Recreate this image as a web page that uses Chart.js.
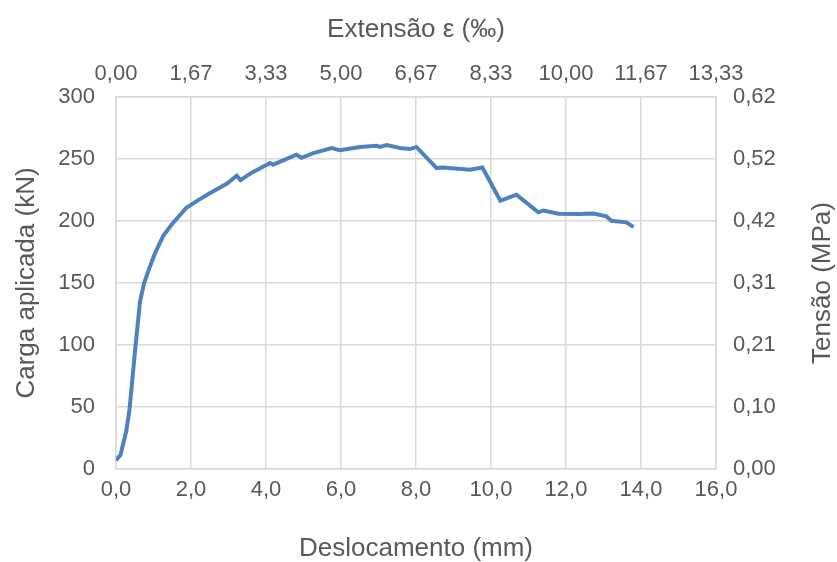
<!DOCTYPE html>
<html>
<head>
<meta charset="utf-8">
<script src="https://cdn.jsdelivr.net/npm/chart.js@4.4.1/dist/chart.umd.min.js"></script>
<style>
  body { margin: 0; background: #fff; }
  #chart { display: block; }
</style>
</head>
<body>
<canvas id="chart" width="837" height="562"></canvas>
<script>
// deslocamento (mm) e carga (kN)
const disp = [0, 0.12, 0.27, 0.36, 0.51, 0.64, 0.75, 0.89, 1.04, 1.26, 1.48, 1.87, 2.15, 2.51, 2.95, 3.22, 3.32, 3.62, 4.11, 4.19,
    4.81, 4.95, 5.26, 5.75, 5.97, 6.51, 6.95, 7.04, 7.22, 7.57, 7.84, 8.01, 8.55, 8.72, 9.44, 9.77, 10.25, 10.68,
    11.26, 11.4, 11.8, 12.37, 12.73, 13.08, 13.21, 13.61, 13.8];
const load = [7, 11.5, 30, 48, 96, 135, 150, 162, 174, 188, 197, 210.5, 216, 222.6, 230, 236.5, 233, 239, 246.7, 245.4,
    253.5, 251, 254.8, 258.9, 257, 259.7, 260.7, 259.7, 261.3, 258.9, 258, 259.7, 242.7, 243.2, 241.4, 243.2, 216.4, 221.2,
    207, 208.5, 205.9, 205.6, 206.1, 203.7, 200.2, 198.9, 195.2];

const xTicks = ['0,0', '2,0', '4,0', '6,0', '8,0', '10,0', '12,0', '14,0', '16,0'];
const strainTicks = ['0,00', '1,67', '3,33', '5,00', '6,67', '8,33', '10,00', '11,67', '13,33'];
const stressTicks = ['0,00', '0,10', '0,21', '0,31', '0,42', '0,52', '0,62'];

const grey = '#d9d9d9';
const txt = '#595959';
const fam = 'Liberation Sans, Arial, sans-serif';
const tickFont = { family: fam, size: 22 };
const titleFont = { family: fam, size: 26, lineHeight: 1.2 };

// titulo do eixo secundario, rodado como no Excel (de baixo para cima)
const rightTitle = {
    id: 'rightTitle',
    afterDraw(chart) {
        const a = chart.chartArea;
        const c = chart.ctx;
        c.save();
        c.translate(823, (a.top + a.bottom) / 2);
        c.rotate(-Math.PI / 2);
        c.font = '26px ' + fam;
        c.fillStyle = txt;
        c.textAlign = 'center';
        c.textBaseline = 'middle';
        c.fillText('Tensão (MPa)', 0, 0);
        c.restore();
    }
};

const ctx = document.getElementById('chart').getContext('2d');
new Chart(ctx, {
    type: 'scatter',
    data: {
        datasets: [{
            data: disp.map((x, i) => ({ x: x, y: load[i] })),
            showLine: true,
            borderColor: '#4f81bd',
            borderWidth: 4,
            pointRadius: 0,
            tension: 0,
            xAxisID: 'x',
            yAxisID: 'y'
        }]
    },
    plugins: [rightTitle],
    options: {
        responsive: false,
        animation: false,
        layout: { padding: 0 },
        plugins: { legend: { display: false }, tooltip: { enabled: false } },
        scales: {
            x: {
                type: 'linear', position: 'bottom', min: 0, max: 16,
                afterFit: s => { s.height = 93; },
                grid: { color: grey, lineWidth: 1.5, drawTicks: false },
                border: { color: grey, width: 1.5 },
                ticks: { stepSize: 2, color: txt, font: tickFont, padding: 8, maxRotation: 0,
                    callback: (v, i) => xTicks[i] },
                title: { display: true, text: 'Deslocamento (mm)', color: txt,
                    font: { family: fam, size: 26, lineHeight: 1 }, padding: { top: 0, bottom: 0 } }
            },
            x2: {
                type: 'linear', position: 'top', min: 0, max: 16,
                afterFit: s => { s.height = 97; },
                grid: { display: false, drawTicks: false },
                border: { color: grey, width: 1.5 },
                ticks: { stepSize: 2, color: txt, font: tickFont, padding: 10, maxRotation: 0,
                    callback: (v, i) => strainTicks[i] },
                title: { display: true, text: 'Extensão ε (‰)', color: txt, font: titleFont, padding: { top: 14, bottom: 0 } }
            },
            y: {
                type: 'linear', position: 'left', min: 0, max: 300,
                afterFit: s => { s.width = 116; },
                grid: { color: grey, lineWidth: 1.5, drawTicks: false },
                border: { color: grey, width: 1.5 },
                ticks: { stepSize: 50, color: txt, font: tickFont, padding: 21 },
                title: { display: true, text: 'Carga aplicada (kN)', color: txt, font: titleFont, padding: { top: 11, bottom: 0 } }
            },
            y2: {
                type: 'linear', position: 'right', min: 0, max: 300,
                afterFit: s => { s.width = 121; },
                grid: { display: false, drawTicks: false },
                border: { color: grey, width: 1.5 },
                ticks: { stepSize: 50, color: txt, font: tickFont, padding: 17,
                    callback: (v, i) => stressTicks[i] }
            }
        }
    }
});
</script>
</body>
</html>
